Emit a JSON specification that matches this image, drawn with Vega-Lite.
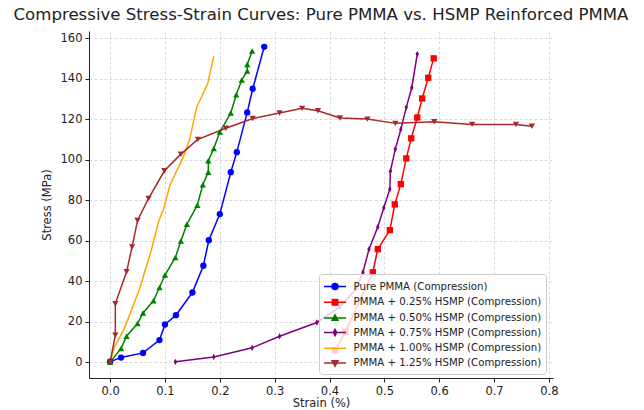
{
  "$schema": "https://vega.github.io/schema/vega-lite/v6.json",
  "width": 464,
  "height": 347,
  "autosize": {"type": "none"},
  "padding": {"left": 89, "top": 31, "right": 91, "bottom": 32},
  "background": "white",
  "title": {"text": "Compressive Stress-Strain Curves: Pure PMMA vs. HSMP Reinforced PMMA", "font": "DejaVu Sans", "fontSize": 16.6, "fontWeight": "normal", "color": "#222", "anchor": "middle", "offset": 7},
  "config": {
    "view": {"stroke": null},
    "font": "DejaVu Sans",
    "axis": {"labelFont": "DejaVu Sans", "titleFont": "DejaVu Sans", "labelFontSize": 11.5, "titleFontSize": 11.5, "titleFontWeight": "normal", "labelColor": "#222", "titleColor": "#222", "domainColor": "#222", "tickColor": "#222", "tickSize": 4, "gridColor": "#d0d0d0", "gridDash": [3, 2], "gridWidth": 0.8},
    "legend": {"orient": "none", "legendX": 230, "legendY": 243, "title": null, "labelFont": "DejaVu Sans", "labelFontSize": 10.2, "labelColor": "#222", "labelLimit": 300, "symbolSize": 225, "symbolStrokeWidth": 1.5, "symbolOffset": 3.5, "labelOffset": 10, "rowPadding": 0.7, "padding": 4, "cornerRadius": 3, "strokeColor": "#cccccc", "fillColor": "rgba(255,255,255,0.8)"}
  },
  "datasets": {
    "d": [
      {"s": "Pure PMMA (Compression)", "i": 0, "x": 0.0, "y": 0.3},
      {"s": "Pure PMMA (Compression)", "i": 1, "x": 0.02, "y": 2.3},
      {"s": "Pure PMMA (Compression)", "i": 2, "x": 0.06, "y": 4.6},
      {"s": "Pure PMMA (Compression)", "i": 3, "x": 0.09, "y": 10.9},
      {"s": "Pure PMMA (Compression)", "i": 4, "x": 0.1, "y": 18.6},
      {"s": "Pure PMMA (Compression)", "i": 5, "x": 0.12, "y": 23.2},
      {"s": "Pure PMMA (Compression)", "i": 6, "x": 0.15, "y": 34.4},
      {"s": "Pure PMMA (Compression)", "i": 7, "x": 0.17, "y": 47.6},
      {"s": "Pure PMMA (Compression)", "i": 8, "x": 0.18, "y": 60.2},
      {"s": "Pure PMMA (Compression)", "i": 9, "x": 0.2, "y": 73.1},
      {"s": "Pure PMMA (Compression)", "i": 10, "x": 0.22, "y": 93.8},
      {"s": "Pure PMMA (Compression)", "i": 11, "x": 0.231, "y": 103.7},
      {"s": "Pure PMMA (Compression)", "i": 12, "x": 0.25, "y": 123.3},
      {"s": "Pure PMMA (Compression)", "i": 13, "x": 0.26, "y": 135.0},
      {"s": "Pure PMMA (Compression)", "i": 14, "x": 0.281, "y": 155.7},

      {"s": "PMMA + 0.25% HSMP (Compression)", "i": 0, "x": 0.41, "y": 5.9},
      {"s": "PMMA + 0.25% HSMP (Compression)", "i": 1, "x": 0.429, "y": 15.0},
      {"s": "PMMA + 0.25% HSMP (Compression)", "i": 2, "x": 0.479, "y": 44.4},
      {"s": "PMMA + 0.25% HSMP (Compression)", "i": 3, "x": 0.488, "y": 55.8},
      {"s": "PMMA + 0.25% HSMP (Compression)", "i": 4, "x": 0.51, "y": 65.2},
      {"s": "PMMA + 0.25% HSMP (Compression)", "i": 5, "x": 0.519, "y": 77.9},
      {"s": "PMMA + 0.25% HSMP (Compression)", "i": 6, "x": 0.53, "y": 87.9},
      {"s": "PMMA + 0.25% HSMP (Compression)", "i": 7, "x": 0.54, "y": 100.6},
      {"s": "PMMA + 0.25% HSMP (Compression)", "i": 8, "x": 0.549, "y": 110.5},
      {"s": "PMMA + 0.25% HSMP (Compression)", "i": 9, "x": 0.56, "y": 120.8},
      {"s": "PMMA + 0.25% HSMP (Compression)", "i": 10, "x": 0.569, "y": 130.2},
      {"s": "PMMA + 0.25% HSMP (Compression)", "i": 11, "x": 0.58, "y": 140.4},
      {"s": "PMMA + 0.25% HSMP (Compression)", "i": 12, "x": 0.59, "y": 150.0},

      {"s": "PMMA + 0.50% HSMP (Compression)", "i": 0, "x": 0.0, "y": 0.0},
      {"s": "PMMA + 0.50% HSMP (Compression)", "i": 1, "x": 0.02, "y": 6.8},
      {"s": "PMMA + 0.50% HSMP (Compression)", "i": 2, "x": 0.03, "y": 12.8},
      {"s": "PMMA + 0.50% HSMP (Compression)", "i": 3, "x": 0.05, "y": 19.1},
      {"s": "PMMA + 0.50% HSMP (Compression)", "i": 4, "x": 0.06, "y": 24.3},
      {"s": "PMMA + 0.50% HSMP (Compression)", "i": 5, "x": 0.079, "y": 30.3},
      {"s": "PMMA + 0.50% HSMP (Compression)", "i": 6, "x": 0.09, "y": 36.9},
      {"s": "PMMA + 0.50% HSMP (Compression)", "i": 7, "x": 0.1, "y": 43.0},
      {"s": "PMMA + 0.50% HSMP (Compression)", "i": 8, "x": 0.119, "y": 51.7},
      {"s": "PMMA + 0.50% HSMP (Compression)", "i": 9, "x": 0.129, "y": 59.8},
      {"s": "PMMA + 0.50% HSMP (Compression)", "i": 10, "x": 0.14, "y": 68.1},
      {"s": "PMMA + 0.50% HSMP (Compression)", "i": 11, "x": 0.159, "y": 77.5},
      {"s": "PMMA + 0.50% HSMP (Compression)", "i": 12, "x": 0.169, "y": 87.6},
      {"s": "PMMA + 0.50% HSMP (Compression)", "i": 13, "x": 0.179, "y": 93.8},
      {"s": "PMMA + 0.50% HSMP (Compression)", "i": 14, "x": 0.179, "y": 99.4},
      {"s": "PMMA + 0.50% HSMP (Compression)", "i": 15, "x": 0.189, "y": 105.5},
      {"s": "PMMA + 0.50% HSMP (Compression)", "i": 16, "x": 0.2, "y": 113.6},
      {"s": "PMMA + 0.50% HSMP (Compression)", "i": 17, "x": 0.22, "y": 123.0},
      {"s": "PMMA + 0.50% HSMP (Compression)", "i": 18, "x": 0.23, "y": 132.0},
      {"s": "PMMA + 0.50% HSMP (Compression)", "i": 19, "x": 0.24, "y": 139.3},
      {"s": "PMMA + 0.50% HSMP (Compression)", "i": 20, "x": 0.25, "y": 143.7},
      {"s": "PMMA + 0.50% HSMP (Compression)", "i": 21, "x": 0.25, "y": 147.0},
      {"s": "PMMA + 0.50% HSMP (Compression)", "i": 22, "x": 0.259, "y": 153.6},

      {"s": "PMMA + 0.75% HSMP (Compression)", "i": 0, "x": 0.119, "y": 0.2},
      {"s": "PMMA + 0.75% HSMP (Compression)", "i": 1, "x": 0.189, "y": 2.6},
      {"s": "PMMA + 0.75% HSMP (Compression)", "i": 2, "x": 0.259, "y": 7.1},
      {"s": "PMMA + 0.75% HSMP (Compression)", "i": 3, "x": 0.309, "y": 12.8},
      {"s": "PMMA + 0.75% HSMP (Compression)", "i": 4, "x": 0.377, "y": 19.6},
      {"s": "PMMA + 0.75% HSMP (Compression)", "i": 5, "x": 0.419, "y": 27.3},
      {"s": "PMMA + 0.75% HSMP (Compression)", "i": 6, "x": 0.449, "y": 36.4},
      {"s": "PMMA + 0.75% HSMP (Compression)", "i": 7, "x": 0.461, "y": 44.4},
      {"s": "PMMA + 0.75% HSMP (Compression)", "i": 8, "x": 0.472, "y": 55.8},
      {"s": "PMMA + 0.75% HSMP (Compression)", "i": 9, "x": 0.488, "y": 66.7},
      {"s": "PMMA + 0.75% HSMP (Compression)", "i": 10, "x": 0.499, "y": 76.2},
      {"s": "PMMA + 0.75% HSMP (Compression)", "i": 11, "x": 0.51, "y": 85.4},
      {"s": "PMMA + 0.75% HSMP (Compression)", "i": 12, "x": 0.511, "y": 94.3},
      {"s": "PMMA + 0.75% HSMP (Compression)", "i": 13, "x": 0.52, "y": 105.2},
      {"s": "PMMA + 0.75% HSMP (Compression)", "i": 14, "x": 0.53, "y": 114.9},
      {"s": "PMMA + 0.75% HSMP (Compression)", "i": 15, "x": 0.54, "y": 125.8},
      {"s": "PMMA + 0.75% HSMP (Compression)", "i": 16, "x": 0.55, "y": 135.5},
      {"s": "PMMA + 0.75% HSMP (Compression)", "i": 17, "x": 0.56, "y": 152.1},

      {"s": "PMMA + 1.00% HSMP (Compression)", "i": 0, "x": 0.0, "y": 0.0},
      {"s": "PMMA + 1.00% HSMP (Compression)", "i": 1, "x": 0.008, "y": 7.6},
      {"s": "PMMA + 1.00% HSMP (Compression)", "i": 2, "x": 0.026, "y": 16.6},
      {"s": "PMMA + 1.00% HSMP (Compression)", "i": 3, "x": 0.054, "y": 36.4},
      {"s": "PMMA + 1.00% HSMP (Compression)", "i": 4, "x": 0.075, "y": 55.3},
      {"s": "PMMA + 1.00% HSMP (Compression)", "i": 5, "x": 0.089, "y": 70.0},
      {"s": "PMMA + 1.00% HSMP (Compression)", "i": 6, "x": 0.098, "y": 76.0},
      {"s": "PMMA + 1.00% HSMP (Compression)", "i": 7, "x": 0.109, "y": 87.4},
      {"s": "PMMA + 1.00% HSMP (Compression)", "i": 8, "x": 0.133, "y": 101.0},
      {"s": "PMMA + 1.00% HSMP (Compression)", "i": 9, "x": 0.145, "y": 110.0},
      {"s": "PMMA + 1.00% HSMP (Compression)", "i": 10, "x": 0.158, "y": 126.0},
      {"s": "PMMA + 1.00% HSMP (Compression)", "i": 11, "x": 0.178, "y": 137.6},
      {"s": "PMMA + 1.00% HSMP (Compression)", "i": 12, "x": 0.189, "y": 151.0},

      {"s": "PMMA + 1.25% HSMP (Compression)", "i": 0, "x": 0.0, "y": 0.0},
      {"s": "PMMA + 1.25% HSMP (Compression)", "i": 1, "x": 0.0095, "y": 13.3},
      {"s": "PMMA + 1.25% HSMP (Compression)", "i": 2, "x": 0.0095, "y": 28.8},
      {"s": "PMMA + 1.25% HSMP (Compression)", "i": 3, "x": 0.03, "y": 44.6},
      {"s": "PMMA + 1.25% HSMP (Compression)", "i": 4, "x": 0.04, "y": 56.9},
      {"s": "PMMA + 1.25% HSMP (Compression)", "i": 5, "x": 0.05, "y": 70.0},
      {"s": "PMMA + 1.25% HSMP (Compression)", "i": 6, "x": 0.07, "y": 80.8},
      {"s": "PMMA + 1.25% HSMP (Compression)", "i": 7, "x": 0.099, "y": 94.5},
      {"s": "PMMA + 1.25% HSMP (Compression)", "i": 8, "x": 0.129, "y": 102.7},
      {"s": "PMMA + 1.25% HSMP (Compression)", "i": 9, "x": 0.16, "y": 110.0},
      {"s": "PMMA + 1.25% HSMP (Compression)", "i": 10, "x": 0.211, "y": 115.5},
      {"s": "PMMA + 1.25% HSMP (Compression)", "i": 11, "x": 0.26, "y": 120.3},
      {"s": "PMMA + 1.25% HSMP (Compression)", "i": 12, "x": 0.309, "y": 123.0},
      {"s": "PMMA + 1.25% HSMP (Compression)", "i": 13, "x": 0.35, "y": 125.3},
      {"s": "PMMA + 1.25% HSMP (Compression)", "i": 14, "x": 0.379, "y": 124.1},
      {"s": "PMMA + 1.25% HSMP (Compression)", "i": 15, "x": 0.419, "y": 120.6},
      {"s": "PMMA + 1.25% HSMP (Compression)", "i": 16, "x": 0.469, "y": 120.0},
      {"s": "PMMA + 1.25% HSMP (Compression)", "i": 17, "x": 0.52, "y": 117.9},
      {"s": "PMMA + 1.25% HSMP (Compression)", "i": 18, "x": 0.591, "y": 118.7},
      {"s": "PMMA + 1.25% HSMP (Compression)", "i": 19, "x": 0.66, "y": 117.4},
      {"s": "PMMA + 1.25% HSMP (Compression)", "i": 20, "x": 0.74, "y": 117.4},
      {"s": "PMMA + 1.25% HSMP (Compression)", "i": 21, "x": 0.769, "y": 116.5}
    ]
  },
  "data": {"name": "d"},
  "encoding": {
    "x": {"field": "x", "type": "quantitative", "scale": {"domain": [-0.0385, 0.8075], "nice": false, "zero": false}, "axis": {"title": "Strain (%)", "values": [0, 0.1, 0.2, 0.3, 0.4, 0.5, 0.6, 0.7, 0.8], "format": ".1f", "labelPadding": 3, "titlePadding": 1}},
    "y": {"field": "y", "type": "quantitative", "scale": {"domain": [-7.8, 163.5], "nice": false, "zero": false}, "axis": {"title": "Stress (MPa)", "values": [0, 20, 40, 60, 80, 100, 120, 140, 160], "format": "d", "labelPadding": 3, "titlePadding": 8}}
  },
  "resolve": {"scale": {"shape": "independent"}, "legend": {"color": "independent", "shape": "independent", "stroke": "independent"}},
  "layer": [
    {
      "mark": {"type": "line", "strokeWidth": 1.5},
      "encoding": {
        "color": {"field": "s", "type": "nominal", "scale": {"domain": ["Pure PMMA (Compression)", "PMMA + 0.25% HSMP (Compression)", "PMMA + 0.50% HSMP (Compression)", "PMMA + 0.75% HSMP (Compression)", "PMMA + 1.00% HSMP (Compression)", "PMMA + 1.25% HSMP (Compression)"], "range": ["#0000ff", "#ff0000", "#008000", "#800080", "#ffa500", "#a52a2a"]}, "legend": null},
        "order": {"field": "i", "type": "quantitative"}
      }
    },
    {
      "transform": [{"filter": "datum.s != 'PMMA + 1.00% HSMP (Compression)'"}],
      "mark": {"type": "point", "filled": true, "opacity": 1, "size": 40},
      "encoding": {
        "color": {"field": "s", "type": "nominal", "legend": null},
        "shape": {"field": "s", "type": "nominal", "scale": {"domain": ["Pure PMMA (Compression)", "PMMA + 0.25% HSMP (Compression)", "PMMA + 0.50% HSMP (Compression)", "PMMA + 0.75% HSMP (Compression)", "PMMA + 1.25% HSMP (Compression)"], "range": ["circle", "square", "triangle-up", "M0,-1L0.55,0L0,1L-0.55,0Z", "triangle-down"]}, "legend": null}
      }
    },
    {
      "transform": [{"filter": "false"}],
      "mark": {"type": "point", "filled": true, "opacity": 1, "strokeWidth": 1.5},
      "encoding": {
        "color": {"field": "s", "type": "nominal", "title": null, "legend": {}},
        "stroke": {"field": "s", "type": "nominal", "title": null, "scale": {"domain": ["Pure PMMA (Compression)", "PMMA + 0.25% HSMP (Compression)", "PMMA + 0.50% HSMP (Compression)", "PMMA + 0.75% HSMP (Compression)", "PMMA + 1.00% HSMP (Compression)", "PMMA + 1.25% HSMP (Compression)"], "range": ["#0000ff", "#ff0000", "#008000", "#800080", "#ffa500", "#a52a2a"]}, "legend": {}},
        "shape": {"field": "s", "type": "nominal", "title": null, "scale": {"domain": ["Pure PMMA (Compression)", "PMMA + 0.25% HSMP (Compression)", "PMMA + 0.50% HSMP (Compression)", "PMMA + 0.75% HSMP (Compression)", "PMMA + 1.00% HSMP (Compression)", "PMMA + 1.25% HSMP (Compression)"], "range": ["M-1.47,0H1.47M-0.4,0A0.4,0.4,0,1,0,0.4,0A0.4,0.4,0,1,0,-0.4,0Z", "M-1.47,0H1.47M-0.36,-0.36H0.36V0.36H-0.36Z", "M-1.47,0H1.47M0,-0.42L0.4,0.3H-0.4Z", "M-1.47,0H1.47M0,-0.42L0.22,0L0,0.42L-0.22,0Z", "M-1.47,0H1.47", "M-1.47,0H1.47M0,0.42L0.4,-0.3H-0.4Z"]}, "legend": {}}
      }
    }
  ]
}
